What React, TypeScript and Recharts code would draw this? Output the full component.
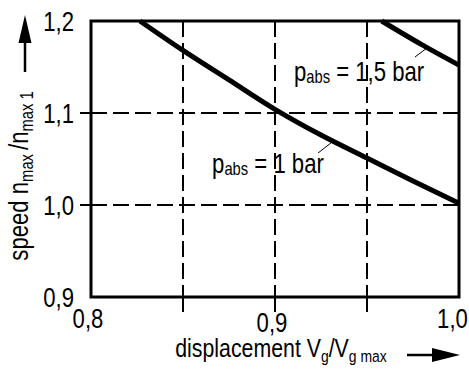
import React from 'react';
import {
  LineChart,
  Line,
  XAxis,
  YAxis,
  CartesianGrid,
  ReferenceArea,
  ReferenceLine,
  ReferenceDot,
} from 'recharts';

// values
const xTicks = [0.8, 0.85, 0.9, 0.95, 1.0];
const yTicks = [0.9, 1.0, 1.1, 1.2];
const xLabelled = [0.8, 0.9, 1.0];
const yGridTicks = [1.0, 1.1];
const xGridTicks = [0.85, 0.9, 0.95];

const bar1X = [0.8266, 0.85, 0.875, 0.9, 0.925, 0.95, 0.975, 1.0];
const bar1Y = [1.2, 1.168, 1.136, 1.104, 1.076, 1.051, 1.026, 1.002];
const bar15X = [0.958, 0.98, 1.0];
const bar15Y = [1.2, 1.174, 1.152];

// curve annotations: text anchor and leader line, in data units
const labelValues = ['1', '1,5'];
const labelX = [0.8658, 0.9103];
const labelY = [1.0348, 1.1348];
const leaderFrom = [
  { x: 0.9234, y: 1.0565 },
  { x: 0.9761, y: 1.1609 },
];
const leaderTo = [
  { x: 0.9304, y: 1.0674 },
  { x: 0.9826, y: 1.1707 },
];

// no condensed face is installed, so Liberation Sans is squeezed horizontally
const font = "'Liberation Sans', Arial, sans-serif";
const squeeze = 0.82;
const fs = 27;
const sub = 18;

const bar1 = bar1X.map((x, i) => ({ x, y: bar1Y[i] }));
const bar15 = bar15X.map((x, i) => ({ x, y: bar15Y[i] }));

const fmt = (v: number) => v.toFixed(1).replace('.', ',');
const near = (list: number[], v: number) => list.some((t) => Math.abs(t - v) < 1e-6);

const NText = ({ x, y, anchor = 'start', rotate = 0, size = fs, children }: any) => (
  <g transform={`translate(${x},${y}) rotate(${rotate}) scale(${squeeze},1)`}>
    <text x={0} y={0} textAnchor={anchor} fontFamily={font} fontSize={size} fill="#000">
      {children}
    </text>
  </g>
);

const XTick = (props: any) => {
  const { x, y, payload } = props;
  const v = payload.value;
  const dx = Math.abs(v - 1.0) < 1e-6 ? -6.5 : -3;
  const dy = Math.abs(v - 0.9) < 1e-6 ? 35 : 31;
  return (
    <g>
      {near(xGridTicks, v) && <line x1={x} x2={x} y1={y} y2={y + 15} stroke="#000" strokeWidth={2} />}
      {near(xLabelled, v) && (
        <NText x={x + dx} y={y + dy} anchor="middle">
          {fmt(v)}
        </NText>
      )}
    </g>
  );
};

const YTick = (props: any) => {
  const { x, y, payload } = props;
  const v = payload.value;
  return (
    <g>
      {near(yGridTicks, v) && <line x1={x - 11} x2={x} y1={y} y2={y} stroke="#000" strokeWidth={2} />}
      <NText x={x - 17} y={y + 10} anchor="end">
        {fmt(v)}
      </NText>
    </g>
  );
};

const YTitle = (props: any) => {
  const { viewBox } = props;
  const cy = viewBox.y + viewBox.height / 2 + 17;
  return (
    <g>
      <NText x={28} y={cy} anchor="middle" rotate={-90}>
        <tspan>speed n</tspan>
        <tspan fontSize={sub} dy={5}>max </tspan>
        <tspan dy={-5}>/n</tspan>
        <tspan fontSize={sub} dy={5}>max 1</tspan>
      </NText>
      <line x1={25} x2={25} y1={72} y2={40} stroke="#000" strokeWidth={2.5} />
      <polygon points="25,15 18.5,43 31.5,43" fill="#000" />
    </g>
  );
};

const XTitle = (props: any) => {
  const { viewBox } = props;
  const by = viewBox.y + 60;
  return (
    <g>
      <NText x={281} y={by} anchor="middle" size={26}>
        <tspan>displacement V</tspan>
        <tspan fontSize={17} dy={5}>g</tspan>
        <tspan dy={-5}>/V</tspan>
        <tspan fontSize={17} dy={5}>g max</tspan>
      </NText>
      <line x1={407} x2={436} y1={355} y2={355} stroke="#000" strokeWidth={2.5} />
      <polygon points="460,355 432,348 432,362" fill="#000" />
    </g>
  );
};

const CurveLabel = ({ viewBox, value }: any) => (
  <NText x={viewBox.x} y={viewBox.y}>
    <tspan>p</tspan>
    <tspan fontSize={sub} dy={2}>abs</tspan>
    <tspan dy={-2}>{` = ${value} bar`}</tspan>
  </NText>
);

export default function App() {
  return (
    <div style={{ position: 'absolute', left: 0, top: 0, background: '#fff' }}>
      <LineChart width={469} height={369} margin={{ top: 21, right: 10, left: 0, bottom: 0 }}>
        <CartesianGrid stroke="#000" strokeWidth={2} strokeDasharray="16 6" />
        <XAxis
          type="number"
          dataKey="x"
          domain={[0.8, 1.0]}
          ticks={xTicks}
          interval={0}
          height={72}
          axisLine={false}
          tickLine={false}
          tickSize={0}
          tickMargin={0}
          tick={(p: any) => <XTick {...p} />}
          label={{ content: (p: any) => <XTitle {...p} /> }}
        />
        <YAxis
          type="number"
          domain={[0.9, 1.2]}
          ticks={yTicks}
          interval={0}
          width={91}
          axisLine={false}
          tickLine={false}
          tickSize={0}
          tickMargin={0}
          tick={(p: any) => <YTick {...p} />}
          label={{ content: (p: any) => <YTitle {...p} /> }}
        />
        <Line data={bar1} dataKey="y" type="monotone" stroke="#000" strokeWidth={5} dot={false} isAnimationActive={false} />
        <Line data={bar15} dataKey="y" type="monotone" stroke="#000" strokeWidth={5} dot={false} isAnimationActive={false} />
        {labelValues.map((v, i) => (
          <ReferenceLine
            key={`l${i}`}
            segment={[leaderFrom[i], leaderTo[i]]}
            stroke="#000"
            strokeWidth={1}
          />
        ))}
        {labelValues.map((v, i) => (
          <ReferenceDot
            key={`t${i}`}
            x={labelX[i]}
            y={labelY[i]}
            r={0}
            stroke="none"
            fill="none"
            label={{ content: (p: any) => <CurveLabel {...p} value={v} /> }}
          />
        ))}
        <ReferenceArea x1={0.8} x2={1.0} y1={0.9} y2={1.2} fill="none" stroke="#000" strokeWidth={3} />
      </LineChart>
    </div>
  );
}
